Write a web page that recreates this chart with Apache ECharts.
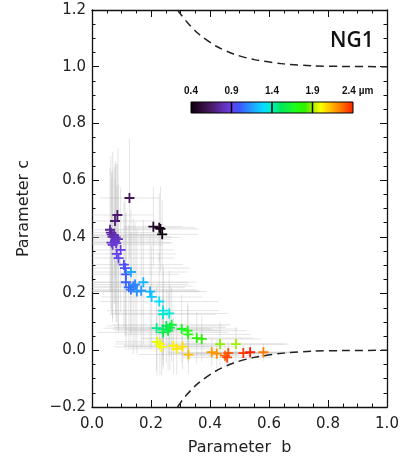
<!DOCTYPE html>
<html>
<head>
<meta charset="utf-8">
<script src="https://cdn.jsdelivr.net/npm/echarts@6/dist/echarts.min.js"></script>
<style>
  html, body { margin: 0; padding: 0; background: #fff; }
  #main { width: 403px; height: 461px; }
</style>
</head>
<body>
<div id="main"></div>
<script>
// wavelength of each channel (µm), ordered short -> long
var wavelength = [
  0.40, 0.42, 0.45, 0.48, 0.62, 0.66, 0.68,
  0.74, 0.75, 0.76, 0.78, 0.79, 0.80, 0.82, 0.83, 0.84, 0.86, 0.87,
  0.89, 0.90, 0.92, 0.95, 0.98, 1.00,
  1.02, 1.04, 1.06, 1.08, 1.10, 1.18, 1.12, 1.20, 1.14, 1.20, 1.25,
  1.30, 1.33, 1.36, 1.38,
  1.45, 1.48, 1.50, 1.53, 1.56, 1.59, 1.62, 1.65, 1.70, 1.73, 1.77, 1.80,
  1.88, 1.90,
  1.97, 1.98, 2.00, 2.02, 2.04, 2.06, 2.12,
  2.18, 2.20, 2.28, 2.30, 2.33, 2.36, 2.40, 2.24
];
// parameter b (x)
var paramB = [
  0.238, 0.232, 0.228, 0.208, 0.127, 0.086, 0.078,
  0.061, 0.064, 0.067, 0.070, 0.075, 0.080, 0.088, 0.078, 0.066, 0.070, 0.082,
  0.097, 0.084, 0.090, 0.108, 0.112, 0.115,
  0.115, 0.125, 0.132, 0.140, 0.146, 0.132, 0.152, 0.174, 0.167, 0.197, 0.202,
  0.228, 0.241, 0.262, 0.241,
  0.219, 0.241, 0.252, 0.264, 0.241, 0.258, 0.270, 0.304, 0.324, 0.326, 0.355, 0.372,
  0.434, 0.488,
  0.220, 0.230, 0.236, 0.276, 0.287, 0.307, 0.327,
  0.406, 0.423, 0.451, 0.462, 0.458, 0.513, 0.536, 0.581
];
// parameter c (y)
var paramC = [
  0.409, 0.428, 0.432, 0.436, 0.537, 0.477, 0.456,
  0.425, 0.415, 0.408, 0.400, 0.405, 0.398, 0.392, 0.385, 0.380, 0.372, 0.378,
  0.354, 0.340, 0.325, 0.302, 0.290, 0.268,
  0.240, 0.222, 0.214, 0.226, 0.232, 0.276, 0.207, 0.240, 0.210, 0.207, 0.188,
  0.172, 0.140, 0.130, 0.127,
  0.078, 0.074, 0.086, 0.080, 0.063, 0.069, 0.090, 0.075, 0.069, 0.056, 0.043, 0.040,
  0.022, 0.022,
  0.030, 0.022, 0.012, 0.016, 0.005, 0.013, -0.015,
  -0.007, -0.012, -0.019, -0.010, -0.025, -0.010, -0.007, -0.007
];
// half-length of error bars
var errB = [
  0.12, 0.13, 0.12, 0.10, 0.10, 0.12, 0.14,
  0.14, 0.18, 0.16, 0.20, 0.15, 0.22, 0.18, 0.16, 0.20, 0.17, 0.19,
  0.18, 0.20, 0.19, 0.20, 0.22, 0.18,
  0.21, 0.19, 0.22, 0.20, 0.18, 0.19, 0.21, 0.18, 0.20, 0.19, 0.17,
  0.20, 0.19, 0.20, 0.18,
  0.18, 0.17, 0.20, 0.19, 0.22, 0.18, 0.20, 0.19, 0.20, 0.21, 0.19, 0.20,
  0.22, 0.18,
  0.14, 0.15, 0.16, 0.17, 0.16, 0.18, 0.17,
  0.15, 0.16, 0.15, 0.17, 0.15, 0.16, 0.15, 0.12
];
var errC = [
  0.12, 0.15, 0.12, 0.14, 0.21, 0.18, 0.20,
  0.22, 0.27, 0.20, 0.30, 0.24, 0.27, 0.32, 0.22, 0.25, 0.26, 0.28,
  0.22, 0.24, 0.26, 0.22, 0.24, 0.22,
  0.24, 0.22, 0.20, 0.24, 0.22, 0.22, 0.22, 0.22, 0.20, 0.20, 0.18,
  0.17, 0.16, 0.15, 0.16,
  0.15, 0.14, 0.13, 0.15, 0.12, 0.14, 0.13, 0.12, 0.10, 0.10, 0.09, 0.08,
  0.08, 0.06,
  0.12, 0.11, 0.10, 0.10, 0.09, 0.08, 0.07,
  0.05, 0.05, 0.04, 0.04, 0.03, 0.03, 0.03, 0.03
];

// dashed limit curves
var upperB = [0.29, 0.30, 0.32, 0.36, 0.42, 0.48, 0.55, 0.65, 0.75, 0.85, 1.00];
var upperC = [1.200, 1.186, 1.160, 1.117, 1.073, 1.045, 1.025, 1.010, 1.003, 1.001, 1.000];
var lowerB = [0.29, 0.30, 0.32, 0.36, 0.42, 0.48, 0.55, 0.65, 0.75, 0.85, 1.00];
var lowerC = [-0.200, -0.185, -0.158, -0.116, -0.073, -0.045, -0.025, -0.010, -0.003, -0.001, 0.000];

// colour scale, 0.4 .. 2.4 µm in 0.1 µm steps
var scaleMin = 0.4, scaleMax = 2.4;
var scaleColors = [
  '#0a000a', '#28082e', '#3e1450', '#52207e', '#6230b4', '#6a3eea',
  '#3c58ff', '#2c86ff', '#18b4ff', '#06dcff', '#00f0c0',
  '#00e860', '#10f040', '#20ff10', '#30f000', '#a0f000',
  '#ffff00', '#ffc800', '#ff9000', '#ff5800', '#ff2000'
];
var scaleTicks = ['0.4', '0.9', '1.4', '1.9', '2.4 µm'];

var pointData = paramB.map(function (b, i) { return [b, paramC[i], wavelength[i]]; });
var errData = paramB.map(function (b, i) { return [b, paramC[i], errB[i], errC[i]]; });
var upperData = upperB.map(function (b, i) { return [b, upperC[i]]; });
var lowerData = lowerB.map(function (b, i) { return [b, lowerC[i]]; });

var chart = echarts.init(document.getElementById('main'));

var fontFam = 'DejaVu Sans';
function fmt(v) {
  var s = Math.abs(v).toFixed(1);
  return v < -1e-9 ? '\u2212' + s : s;
}
function baseAxis(extra) {
  var ax = {
    type: 'value',
    interval: 0.2,
    axisLine: { show: true, onZero: false, lineStyle: { color: '#111', width: 1.3 } },
    axisTick: { show: true, inside: true, length: 7, lineStyle: { color: '#111', width: 1 } },
    minorTick: { show: true, splitNumber: 4, length: 3.5, lineStyle: { color: '#111', width: 1 } },
    splitLine: { show: false },
    minorSplitLine: { show: false },
    axisLabel: { show: false }
  };
  for (var k in extra) ax[k] = extra[k];
  return ax;
}

// colour bar (box position in pixels)
var barX = 191, barY = 102, barW = 162, barH = 11;
var gradStops = scaleColors.map(function (c, i) {
  return { offset: i / (scaleColors.length - 1), color: c };
});
var barGraphics = [{
  type: 'rect',
  shape: { x: barX, y: barY, width: barW, height: barH },
  style: {
    fill: new echarts.graphic.LinearGradient(0, 0, 1, 0, gradStops),
    stroke: '#000', lineWidth: 1
  },
  z: 10
}];
scaleTicks.forEach(function (t, i) {
  var x = barX + barW * i / (scaleTicks.length - 1);
  if (i > 0 && i < scaleTicks.length - 1) {
    barGraphics.push({
      type: 'line',
      shape: { x1: x, y1: barY, x2: x, y2: barY + barH },
      style: { stroke: '#000', lineWidth: 1.5 },
      z: 11
    });
  }
  var last = i === scaleTicks.length - 1;
  barGraphics.push({
    type: 'text',
    x: last ? x - 11 : x,
    y: barY - 11,
    style: {
      text: t, fill: '#111', font: 'bold 10px "Liberation Sans"',
      textAlign: last ? 'left' : 'center', textVerticalAlign: 'middle'
    },
    z: 11
  });
});

chart.setOption({
  animation: false,
  backgroundColor: '#fff',
  title: {
    text: 'NG1', left: 325, top: 26,
    textStyle: { fontFamily: 'Open Sans', fontSize: 21, fontWeight: 600, color: '#111' }
  },
  grid: { left: 92, right: 16, top: 10, bottom: 51 },
  xAxis: [
    baseAxis({
      min: 0, max: 1, position: 'bottom',
      axisLabel: { show: true, color: '#222', fontSize: 15, fontFamily: fontFam, margin: 10, formatter: fmt },
      name: 'Parameter  b', nameLocation: 'middle', nameGap: 33,
      nameTextStyle: { color: '#222', fontSize: 16, fontFamily: fontFam }
    }),
    baseAxis({ min: 0, max: 1, position: 'top' })
  ],
  yAxis: [
    baseAxis({
      min: -0.2, max: 1.2, position: 'left',
      axisLabel: { show: true, color: '#222', fontSize: 15, fontFamily: fontFam, margin: 6, formatter: fmt },
      name: 'Parameter c', nameLocation: 'middle', nameGap: 60,
      nameTextStyle: { color: '#222', fontSize: 16, fontFamily: fontFam }
    }),
    baseAxis({ min: -0.2, max: 1.2, position: 'right' })
  ],
  visualMap: {
    type: 'continuous', show: false, seriesIndex: 3, dimension: 2,
    min: scaleMin, max: scaleMax,
    inRange: { color: scaleColors }
  },
  graphic: barGraphics,
  series: [
    {
      type: 'custom',
      name: 'errors',
      data: errData,
      clip: true,
      z: 1,
      silent: true,
      renderItem: function (params, api) {
        var b = api.value(0), c = api.value(1), eb = api.value(2), ec = api.value(3);
        var l = api.coord([b - eb, c]), r = api.coord([b + eb, c]);
        var t = api.coord([b, c + ec]), d = api.coord([b, c - ec]);
        var st = { stroke: 'rgba(175,175,175,0.33)', lineWidth: 1 };
        return {
          type: 'group',
          children: [
            { type: 'line', shape: { x1: l[0], y1: l[1], x2: r[0], y2: r[1] }, style: st },
            { type: 'line', shape: { x1: t[0], y1: t[1], x2: d[0], y2: d[1] }, style: st }
          ]
        };
      },
      encode: { x: 0, y: 1 }
    },
    {
      type: 'line', data: upperData, smooth: 0.3, showSymbol: false, z: 2, silent: true,
      lineStyle: { color: '#222', width: 1.5, type: [8, 5] }
    },
    {
      type: 'line', data: lowerData, smooth: 0.3, showSymbol: false, z: 2, silent: true,
      lineStyle: { color: '#222', width: 1.5, type: [8, 5] }
    },
    {
      type: 'scatter',
      data: pointData,
      symbol: 'path://M4.1 0H5.9V4.1H10V5.9H5.9V10H4.1V5.9H0V4.1H4.1Z',
      symbolSize: 10,
      z: 3,
      itemStyle: { opacity: 1 }
    }
  ]
});
</script>
</body>
</html>
